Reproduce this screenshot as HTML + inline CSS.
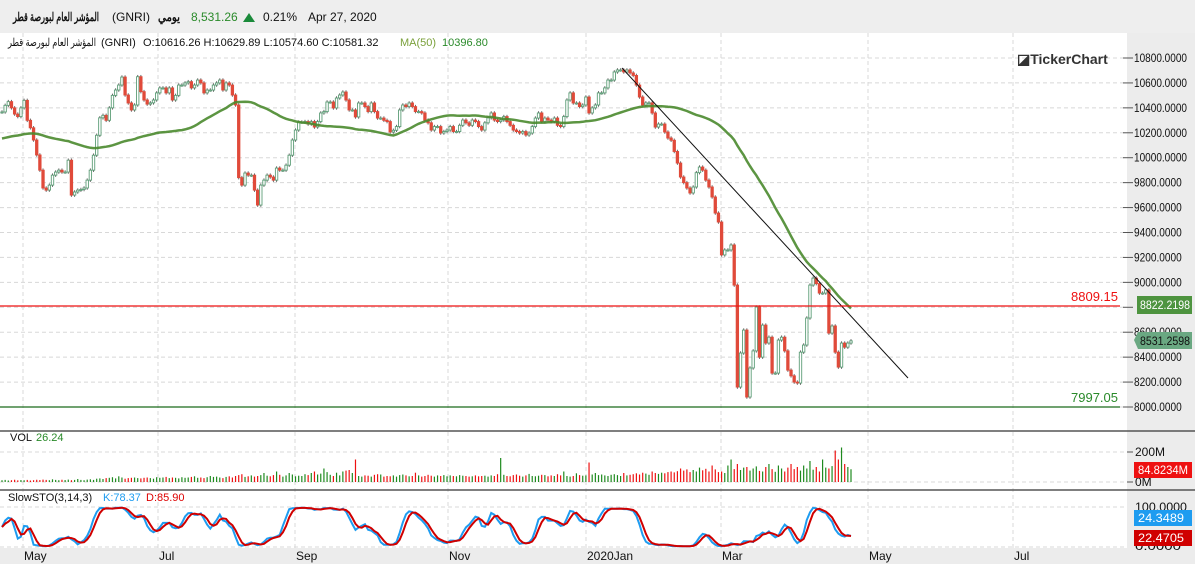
<!DOCTYPE html>
<html><head><meta charset="utf-8"><style>
body{margin:0;width:1195px;height:564px;overflow:hidden;background:#fff;font-family:"Liberation Sans","Noto Sans CJK SC",sans-serif}
svg{display:block}
text{font-family:"Liberation Sans","Noto Sans CJK SC",sans-serif}
</style></head><body>
<svg id="c" width="1195" height="564" xmlns="http://www.w3.org/2000/svg">
<rect x="0" y="0" width="1195" height="33" fill="#eeeeee"/>
<rect x="1127" y="33" width="68" height="515" fill="#ececec"/>
<rect x="0" y="548" width="1195" height="16" fill="#ececec"/>
<g id="grid"></g>
<g font-size="12">
<text x="13" y="21" fill="#111" font-weight="bold" textLength="86" lengthAdjust="spacingAndGlyphs">المؤشر العام لبورصة قطر</text>
<text x="112" y="21" fill="#111">(GNRI)</text>
<text x="158" y="21" fill="#111" font-weight="bold" textLength="22" lengthAdjust="spacingAndGlyphs">يومي</text>
<text x="191" y="21" fill="#2a8a2a">8,531.26</text>
<path d="M243,22 L249,13 L255,22 Z" fill="#1a8a3a"/>
<text x="263" y="21" fill="#111">0.21%</text>
<text x="308" y="21" fill="#111">Apr 27, 2020</text>
</g>
<g font-size="11">
<text x="8" y="46" fill="#111" textLength="88" lengthAdjust="spacingAndGlyphs">المؤشر العام لبورصة قطر</text>
<text x="101" y="46" fill="#111">(GNRI)</text>
<text x="143" y="46" fill="#111">O:10616.26  H:10629.89  L:10574.60  C:10581.32</text>
<text x="400" y="46" fill="#7aa03a">MA(50)</text>
<text x="442" y="46" fill="#2a8a2a">10396.80</text>
</g>
<text x="1017" y="64" font-size="14" font-weight="bold" fill="#333">◪TickerChart</text>
<g id="candles"></g>
<g id="ma"></g>
<line x1="622" y1="68" x2="908" y2="378" stroke="#111" stroke-width="1"/>
<line x1="0" y1="306" x2="1120" y2="306" stroke="#ee1111" stroke-width="1.2"/>
<text x="1118" y="301" text-anchor="end" font-size="13" fill="#ee1111">8809.15</text>
<line x1="0" y1="407" x2="1120" y2="407" stroke="#1a6a1a" stroke-width="1.2"/>
<text x="1118" y="402" text-anchor="end" font-size="13" fill="#2a8a2a">7997.05</text>
<g id="yaxis"></g>
<rect x="1137" y="296" width="55" height="18" fill="#4e9440"/>
<text x="1140" y="309" font-size="12" fill="#fff" textLength="50" lengthAdjust="spacingAndGlyphs">8822.2198</text>
<path d="M1134,340 L1138,332 L1192,332 L1192,349 L1138,349 Z" fill="#6aa882"/>
<text x="1140" y="345" font-size="12" fill="#111" textLength="50" lengthAdjust="spacingAndGlyphs">8531.2598</text>
<line x1="0" y1="431" x2="1195" y2="431" stroke="#555" stroke-width="1.5"/>
<line x1="0" y1="490" x2="1195" y2="490" stroke="#555" stroke-width="1.5"/>
<text x="10" y="441" font-size="11" fill="#111">VOL</text>
<text x="36" y="441" font-size="11" fill="#2a8a2a">26.24</text>
<g id="vol"></g>
<text x="1135" y="456" font-size="12" fill="#111">200M</text>
<text x="1135" y="486" font-size="12" fill="#111">0M</text>
<line x1="1127" y1="452" x2="1133" y2="452" stroke="#555"/>
<line x1="1127" y1="482" x2="1133" y2="482" stroke="#555"/>
<rect x="1134" y="462" width="58" height="16" fill="#ee1111"/>
<text x="1138" y="474" font-size="12" fill="#fff" textLength="50" lengthAdjust="spacingAndGlyphs">84.8234M</text>
<text x="8" y="501" font-size="11" fill="#111">SlowSTO(3,14,3)</text>
<text x="103" y="501" font-size="11" fill="#1e9cf0">K:78.37</text>
<text x="146" y="501" font-size="11" fill="#d00">D:85.90</text>
<g id="sto"></g>
<text x="1135" y="511" font-size="12" fill="#111" textLength="52" lengthAdjust="spacingAndGlyphs">100.0000</text>
<text x="1135" y="550" font-size="12" fill="#111" textLength="46" lengthAdjust="spacingAndGlyphs">0.0000</text>
<rect x="1134" y="510" width="58" height="16" fill="#1e9cf0"/>
<text x="1138" y="522" font-size="12" fill="#fff" textLength="46" lengthAdjust="spacingAndGlyphs">24.3489</text>
<rect x="1134" y="530" width="58" height="16" fill="#d00000"/>
<text x="1138" y="542" font-size="12" fill="#fff" textLength="46" lengthAdjust="spacingAndGlyphs">22.4705</text>
<g id="xaxis"></g>
</svg>
<script>
const closesA=[10367,10420,10450,10400,10350,10330,10400,10460,10300,10240,10142,10022,9900,9757,9740,9780,9860,9885,9900,9885,9885,9980,9700,9725,9740,9745,9757,9820,9900,10020,10180,10320,10340,10300,10400,10500,10543,10583,10647,10503,10439,10383,10423,10650,10530,10463,10430,10440,10463,10520,10560,10560,10520,10560,10463,10500,10583,10583,10600,10610,10560,10583,10623,10600,10520,10543,10543,10583,10600,10623,10543,10600,10583,10503,10423,9840,9780,9877,9860,9860,9740,9620,9780,9820,9860,9845,9820,9917,9900,9900,9940,10020,10142,10222,10286];
const closesB=[10286,10290,10270,10290,10246,10290,10359,10370,10447,10447,10399,10479,10503,10527,10463,10383,10383,10327,10439,10439,10410,10370,10439,10370,10318,10318,10300,10290,10206,10220,10250,10383,10423,10410,10439,10410,10370,10370,10359,10302,10280,10222,10250,10250,10198,10210,10222,10250,10210,10210,10260,10302,10280,10260,10302,10290,10250,10222,10280,10320,10359,10302,10290,10302,10330,10290,10260,10222,10210,10198,10210,10182,10198,10250,10318,10359,10290,10318,10302,10290,10318,10260,10250,10330,10463,10520,10439,10439,10410,10423,10487,10359,10400];
const closesC=[10423,10520,10520,10560,10623,10623,10688,10704,10704,10688,10704,10680,10660,10583,10487,10423,10440,10440,10359,10246,10270,10270,10206,10158,10140,10050,9957,9845,9800,9757,9717,9765,9880,9925,9900,9820,9765,9685,9556,9484,9220,9260,9260,9300,8978,8160,8433,8617,8080,8313,8450,8802,8400,8657,8513,8560,8272,8272,8537,8560,8450,8296,8250,8200,8192,8440,8497,8714,8978,9034,8990,8914,8914,8940,8593,8650,8440,8320,8513,8480,8513,8531];
const volumes=[12,14,10,12,15,11,13,12,14,10,12,15,13,16,14,12,18,14,12,15,13,16,12,14,20,14,12,16,18,14,22,24,20,26,28,32,24,38,30,22,26,28,30,26,24,28,30,26,22,32,28,30,34,26,30,28,24,32,28,30,34,38,28,30,26,32,40,34,36,30,26,34,38,30,40,46,52,34,38,44,36,40,46,60,42,38,46,70,48,36,44,60,50,38,42,
40,52,46,60,70,50,56,90,66,48,40,62,44,70,76,80,60,150,40,36,44,42,36,48,52,50,36,40,38,44,36,46,50,44,38,40,62,44,36,40,48,42,36,44,40,46,38,44,40,38,46,42,40,36,38,44,38,40,42,36,44,40,52,160,48,40,38,46,50,42,36,44,54,40,38,42,48,46,38,44,40,52,44,70,40,36,40,58,46,42,44,130,50,
60,46,50,44,40,48,52,46,40,60,44,48,52,58,50,62,56,48,70,60,54,62,58,66,70,64,72,90,76,84,66,80,70,96,78,88,70,110,84,66,70,60,110,150,86,120,80,96,100,76,90,104,74,70,100,120,86,68,110,90,70,96,120,86,100,76,110,90,140,82,100,70,150,96,90,106,210,150,230,120,100,85];
const priceTicks=[10800,10600,10400,10200,10000,9800,9600,9400,9200,9000,8800,8600,8400,8200,8000];
const monthLabels=["May","Jul","Sep","Nov","2020Jan","Mar","May","Jul"];
const monthX=[23,158,295,448,586,721,868,1013];
const maSeed=10150;

const NS="http://www.w3.org/2000/svg";
function mk(tag,attrs,parent){const e=document.createElementNS(NS,tag);for(const k in attrs)e.setAttribute(k,attrs[k]);parent.appendChild(e);return e;}
const closes=closesA.concat(closesB,closesC);
const n=closes.length;
const X0=2,X1=851,s=(X1-X0)/(n-1);
const xs=i=>X0+i*s;
const yP=p=>58+(10800-p)*(349/2800);
const yV=v=>482-v*0.15;
const yS=v=>547-v*0.40;
const opens=closes.map((c,i)=>i?closes[i-1]:c);
const highs=closes.map((c,i)=>Math.max(c,opens[i])+14);
const lows=closes.map((c,i)=>Math.min(c,opens[i])-14);

const grid=document.getElementById('grid');
priceTicks.forEach(p=>{
 const l=mk('line',{x1:0,x2:1127,y1:yP(p),y2:yP(p),stroke:'#d8d8d8','stroke-dasharray':'4,3'},grid);
 
 
});
[452,482,507,547].forEach(y=>{
 const l=mk('line',{x1:0,x2:1127,y1:y,y2:y,stroke:'#d8d8d8','stroke-dasharray':'4,3'},grid);
 
 
});
monthX.forEach(x=>{
 const l=mk('line',{x1:x,x2:x,y1:33,y2:548,stroke:'#d8d8d8','stroke-dasharray':'4,3'},grid);
 
 
});

const ya=document.getElementById('yaxis');
priceTicks.forEach(p=>{
 const t=mk('line',{x1:1123,x2:1133,y1:yP(p),y2:yP(p),stroke:'#555'},ya);
 
 
 if(p===8800)return;
 const lbl=p.toFixed(4);
 const tx=mk('text',{x:1134,y:yP(p)+4,'font-size':12,fill:'#111',textLength:lbl.length*5.3,lengthAdjust:'spacingAndGlyphs'},ya);
 tx.textContent=lbl;
 
 
});

const xa=document.getElementById('xaxis');
monthLabels.forEach((m,i)=>{
 const t=mk('text',{x:monthX[i]+1,y:560,'font-size':12,fill:'#111'},xa);
 t.textContent=m;
 
 
});

const cg=document.getElementById('candles');
for(let i=0;i<n;i++){
 const x=xs(i),up=closes[i]>=opens[i];
 const w=mk('line',{x1:x,x2:x,y1:yP(highs[i]),y2:yP(lows[i]),stroke:'#666','stroke-width':1},cg);
 
 
 const top=yP(Math.max(opens[i],closes[i])),bot=yP(Math.min(opens[i],closes[i]));
 const r=mk('rect',{x:x-1.2,y:top,width:2.4,height:Math.max(1,bot-top),fill:up?'#ffffff':'#e04a3a',stroke:up?'#5e9e78':'#e04a3a','stroke-width':0.9},cg);
 
 
}

const ma=[];
for(let i=0;i<n;i++){let sum=0;for(let k=i-49;k<=i;k++)sum+=k>=0?closes[k]:maSeed;ma.push(sum/50);}
const mp=mk('path',{d:ma.map((v,i)=>(i?'L':'M')+xs(i).toFixed(1)+','+yP(v).toFixed(1)).join(''),fill:'none',stroke:'#4a8a2e','stroke-width':2.5,'stroke-opacity':0.9},document.getElementById('ma'));



const vg=document.getElementById('vol');
for(let i=0;i<n;i++){
 const v=volumes[i]||0;
 const b=mk('line',{x1:xs(i),x2:xs(i),y1:482,y2:yV(v),stroke:closes[i]>=opens[i]?'#1f8a1f':'#ee1111','stroke-width':1.2},vg);
 
 
}

const raw=[];
for(let i=0;i<n;i++){let hh=-1e9,ll=1e9;for(let k=Math.max(0,i-13);k<=i;k++){hh=Math.max(hh,highs[k]);ll=Math.min(ll,lows[k]);}raw.push(hh>ll?(closes[i]-ll)/(hh-ll)*100:50);}
const sma=(a,p)=>a.map((v,i)=>{let s2=0,c=0;for(let k=Math.max(0,i-p+1);k<=i;k++){s2+=a[k];c++;}return s2/c;});
const K=sma(raw,3),D=sma(K,3);
const sg=document.getElementById('sto');
const kp=mk('path',{d:K.map((v,i)=>(i?'L':'M')+xs(i).toFixed(1)+','+yS(v).toFixed(1)).join(''),fill:'none',stroke:'#1e9cf0','stroke-width':2},sg);


const dp=mk('path',{d:D.map((v,i)=>(i?'L':'M')+xs(i).toFixed(1)+','+yS(v).toFixed(1)).join(''),fill:'none',stroke:'#d00000','stroke-width':2},sg);


</script>
</body></html>
